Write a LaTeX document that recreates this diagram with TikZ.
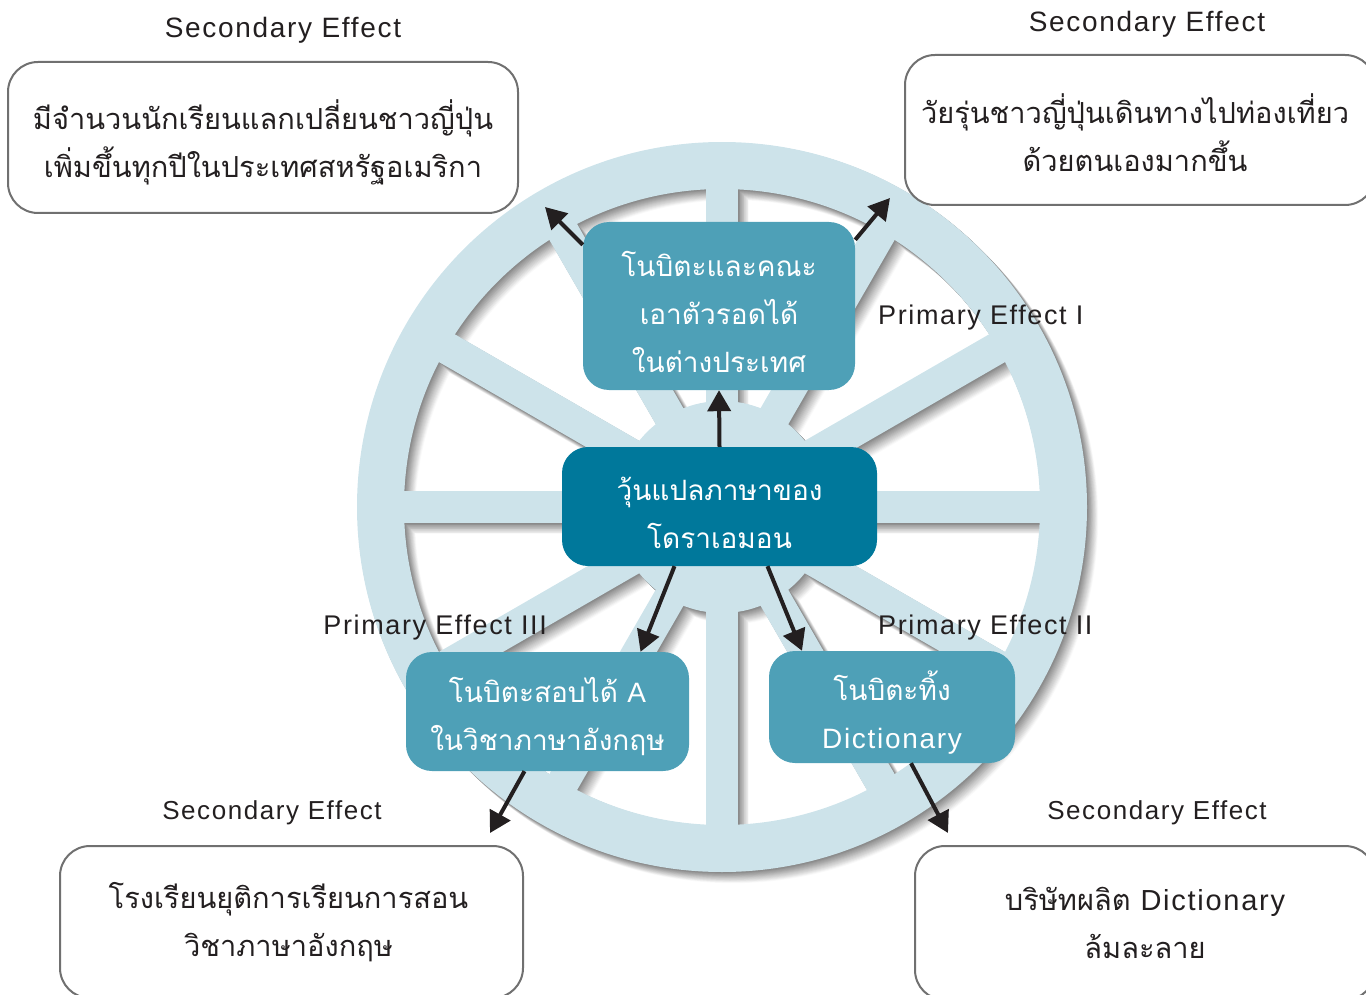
\documentclass[tikz,border=0pt]{standalone}
\usepackage{fontspec}
\setmainfont[LetterSpace=6]{Liberation Sans}
\newfontfamily\thaifont[Script=Thai]{Loma}
\newfontfamily\latinfont[LetterSpace=6]{Liberation Sans}
\usetikzlibrary{arrows.meta}

\definecolor{wheelblue}{HTML}{CDE3EA}
\definecolor{boxblue}{HTML}{4EA0B7}
\definecolor{hubblue}{HTML}{00789B}
\definecolor{framegray}{HTML}{707070}
\definecolor{inkblack}{HTML}{231F20}

\newcommand{\wheel}[1]{%
  \fill[#1,even odd rule] (0,0) circle[radius=365] (0,0) circle[radius=318];
  \fill[#1] (0,0) circle[radius=106];
  \foreach \a in {0,30,...,330}
    \fill[#1,rotate=\a] (0,-16) rectangle (340,16);
}

\tikzset{
  primbox/.style={rounded corners=26pt, fill=boxblue, inner sep=0pt},
  mainbox/.style={primbox, fill=hubblue, minimum width=315pt, minimum height=119pt},
  secbox/.style={rounded corners=30pt, draw=framegray, line width=2pt, fill=white, inner sep=0pt},
  primtext/.style={text=white, align=center, inner sep=0pt, font=\thaifont\fontsize{28}{48}\selectfont},
  sectext/.style={text=inkblack, align=center, inner sep=0pt, font=\thaifont\fontsize{29}{48}\selectfont},
  lbl/.style={text=inkblack, inner sep=0pt, font=\latinfont\fontsize{27}{32}\selectfont},
  fx/.style={draw=inkblack, line width=4pt, -{Triangle[length=21pt,width=23pt]}}
}

\begin{document}
\begin{tikzpicture}[x=1pt,y=-1pt]
\useasboundingbox (0,0) rectangle (1366,995);

% wheel with its shadow
\foreach \k in {14,...,1}{
  \pgfmathtruncatemacro\sh{50-3.4*\k}
  \begin{scope}[shift={(722+0.8*\k,507+0.8*\k)}]
    \wheel{black!\sh}
  \end{scope}
}
\begin{scope}[shift={(722,507)}]
  \wheel{wheelblue}
\end{scope}

\node[secbox, minimum width=510pt, minimum height=151pt] (s1) at (263,137.5) {};
\node[secbox, minimum width=470pt, minimum height=150pt] (s2) at (1140,130) {};
\node[secbox, minimum width=463pt, minimum height=152pt] (s3) at (291.5,922) {};
\node[secbox, minimum width=460pt, minimum height=154pt] (s4) at (1145,923) {};
\node[sectext] (s1t) at ([yshift=-5pt]s1.center)
  {มีจำนวนนักเรียนแลกเปลี่ยนชาวญี่ปุ่น\\เพิ่มขึ้นทุกปีในประเทศสหรัฐอเมริกา};
\node[sectext] (s2t) at ([xshift=-5pt,yshift=-3pt]s2.center)
  {วัยรุ่นชาวญี่ปุ่นเดินทางไปท่องเที่ยว\\ด้วยตนเองมากขึ้น};
\node[sectext] (s3t) at ([xshift=-3pt]s3.center)
  {โรงเรียนยุติการเรียนการสอน\\วิชาภาษาอังกฤษ};
\node[sectext] (s4t) at (s4.center)
  {บริษัทผลิต {\latinfont Dictionary}\\ล้มละลาย};

\node[lbl, font=\latinfont\fontsize{28}{32}\selectfont] (l1) at (283,30) {Secondary Effect};
\node[lbl, font=\latinfont\fontsize{28}{32}\selectfont] (l2) at (1147,24) {Secondary Effect};
\node[lbl, font=\latinfont\fontsize{26}{32}\selectfont] (l3) at (272,813) {Secondary Effect};
\node[lbl, font=\latinfont\fontsize{26}{32}\selectfont] (l4) at (1157,813) {Secondary Effect};
\node[lbl, anchor=west] (e1) at (878,318) {Primary Effect I};
\node[lbl, anchor=west] (e2) at (878,628) {Primary Effect II};
\node[lbl, anchor=east] (e3) at (547,628) {Primary Effect III};

\node[mainbox] (drug) at (719.5,506.5) {};
\node[primbox, minimum width=272pt, minimum height=168pt] (p1) at (719,306) {};
\node[primbox, minimum width=246pt, minimum height=112pt] (p2) at (892,707) {};
\node[primbox, minimum width=283pt, minimum height=119pt] (p3) at (547.5,711.5) {};
\node[primtext] (drugt) at ([yshift=-6pt]drug.center) {วุ้นแปลภาษาของ\\โดราเอมอน};
\node[primtext] (p1t) at ([yshift=-6pt]p1.center) {โนบิตะและคณะ\\เอาตัวรอดได้\\ในต่างประเทศ};
\node[primtext] (p2t) at ([yshift=-6pt]p2.center) {โนบิตะทิ้ง\\{\latinfont Dictionary}};
\node[primtext] (p3t) at ([yshift=-5pt]p3.center) {โนบิตะสอบได้ {\latinfont A}\\ในวิชาภาษาอังกฤษ};

\coordinate (t1) at (545,207);
\coordinate (t2) at (890,198);
\coordinate (t3) at (490,833);
\coordinate (t4) at (948,833);

\draw[fx] (drug.north) -- (p1.south);
\draw[fx] ([xshift=48pt]drug.south) -- ([xshift=-90pt]p2.north);
\draw[fx] ([xshift=-45pt]drug.south) -- ([xshift=93pt]p3.north);
\draw[fx] ([yshift=-23pt]p1.north west) -- (t1);
\draw[fx] ([yshift=-18pt]p1.north east) -- (t2);
\draw[fx] ([xshift=-23pt]p3.south) -- (t3);
\draw[fx] ([xshift=19pt]p2.south) -- (t4);
\end{tikzpicture}
\end{document}
